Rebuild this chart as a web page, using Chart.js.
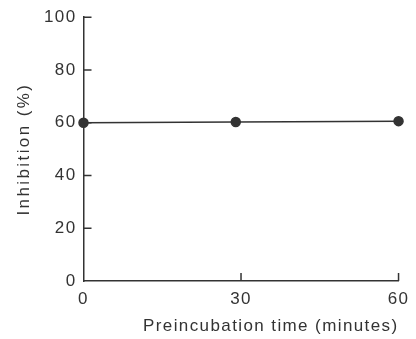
<!DOCTYPE html>
<html>
<head>
<meta charset="utf-8">
<script src="https://cdn.jsdelivr.net/npm/chart.js@4/dist/chart.umd.min.js"></script>
<style>
  html, body { margin: 0; padding: 0; background: #fff; }
  #wrap { width: 416px; height: 339px; }
</style>
</head>
<body>
<div id="wrap"><canvas id="inhibChart"></canvas></div>
<script>
// Data
const preincubationMinutes = [0, 29, 60];
const inhibitionPercent = [60, 60.3, 60.6];
const xTickValues = [0, 30, 60];
const yTickValues = [0, 20, 40, 60, 80, 100];

const ink = "#333";
const textFont = "'Liberation Sans', Arial, sans-serif";

// Wide, typewriter-like spacing of the scanned lettering.
// The y title in the scan is spaced wider still, so its title draw gets its own value.
const spacedText = {
    id: "spacedText",
    afterLayout(chart) {
        const yScale = chart.scales.y;
        if (!yScale._spaced) {
            const drawTitle = yScale.drawTitle;
            yScale.drawTitle = function () {
                this.ctx.letterSpacing = "2.4px";
                drawTitle.apply(this, arguments);
                this.ctx.letterSpacing = "1.4px";
            };
            yScale._spaced = true;
        }
    },
    beforeDraw(chart) {
        chart.ctx.letterSpacing = "1.4px";
    }
};

// Short tick marks drawn on the inside of the axes
const inwardTicks = {
    id: "inwardTicks",
    afterDraw(chart) {
        const ctx = chart.ctx;
        const x = chart.scales.x;
        const y = chart.scales.y;
        const len = 8;
        ctx.save();
        ctx.strokeStyle = ink;
        ctx.lineWidth = 1.5;
        ctx.beginPath();
        yTickValues.forEach(v => {
            if (v === 0) return;
            const py = y.getPixelForValue(v);
            ctx.moveTo(x.left, py);
            ctx.lineTo(x.left + len, py);
        });
        xTickValues.forEach(v => {
            if (v === 0) return;
            const px = x.getPixelForValue(v);
            ctx.moveTo(px, y.bottom);
            ctx.lineTo(px, y.bottom - len);
        });
        ctx.stroke();
        ctx.restore();
    }
};

new Chart(document.getElementById("inhibChart"), {
    type: "line",
    data: {
        datasets: [{
            data: preincubationMinutes.map((m, i) => ({ x: m, y: inhibitionPercent[i] })),
            borderColor: ink,
            borderWidth: 1.5,
            backgroundColor: ink,
            pointBackgroundColor: ink,
            pointBorderColor: ink,
            pointRadius: 4.5,
            tension: 0,
            clip: false
        }]
    },
    options: {
        responsive: true,
        maintainAspectRatio: false,
        animation: false,
        layout: { padding: { left: 0, right: 11, top: 17, bottom: 0 } },
        plugins: {
            legend: { display: false },
            tooltip: { enabled: false }
        },
        scales: {
            x: {
                type: "linear",
                min: 0,
                max: 60,
                afterBuildTicks: s => { s.ticks = xTickValues.map(v => ({ value: v })); },
                afterFit: s => { s.height = 58; },
                grid: { drawOnChartArea: false, drawTicks: false },
                border: { display: true, color: ink, width: 1.5 },
                ticks: {
                    padding: 8,
                    color: ink,
                    font: { family: textFont, size: 17 },
                    maxRotation: 0
                },
                title: {
                    display: true,
                    text: "Preincubation time (minutes)",
                    align: "end",
                    color: ink,
                    font: { family: textFont, size: 17 },
                    padding: { top: 0, bottom: 2 }
                }
            },
            y: {
                min: 0,
                max: 100,
                afterBuildTicks: s => { s.ticks = yTickValues.map(v => ({ value: v })); },
                afterFit: s => { s.width = 83.5; },
                grid: { drawOnChartArea: false, drawTicks: false },
                border: { display: true, color: ink, width: 1.5 },
                ticks: {
                    padding: 7,
                    color: ink,
                    font: { family: textFont, size: 17 }
                },
                title: {
                    display: true,
                    text: "Inhibition (%)",
                    color: ink,
                    font: { family: textFont, size: 17 },
                    padding: { top: 14, bottom: 0 }
                }
            }
        }
    },
    plugins: [spacedText, inwardTicks]
});
</script>
</body>
</html>
